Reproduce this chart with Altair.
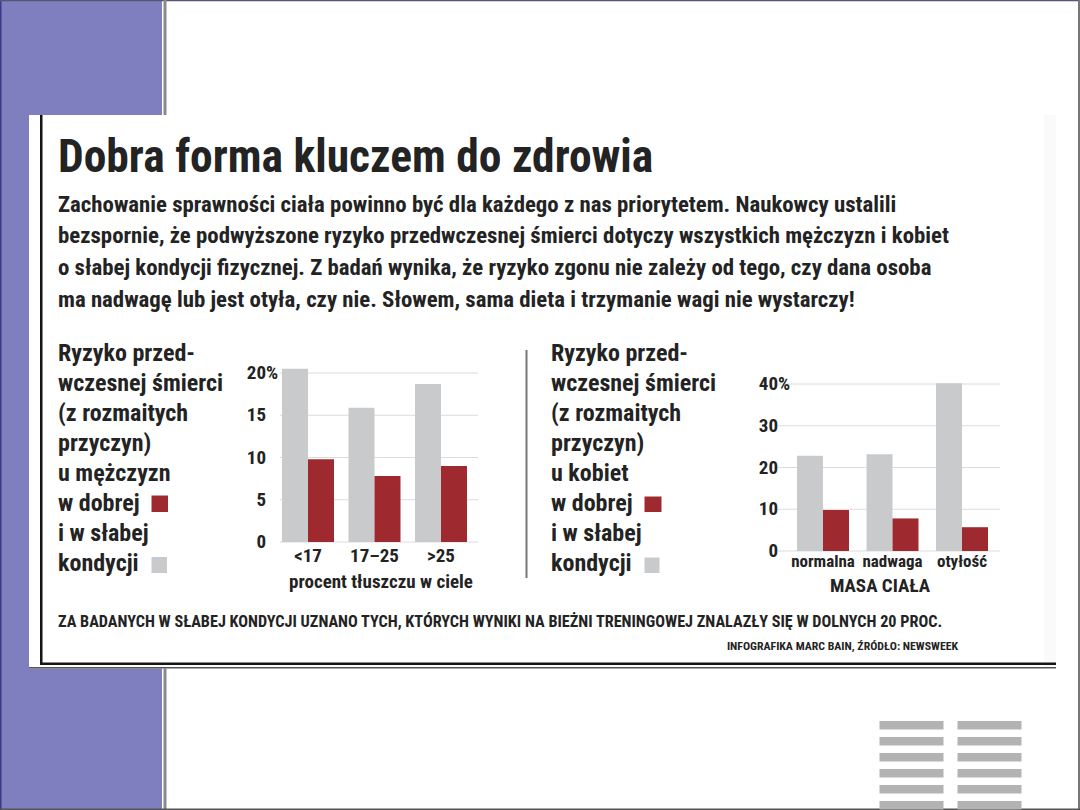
import altair as alt
import pandas as pd

# ---------------- data ----------------
series = ["w słabej kondycji", "w dobrej kondycji"]

men_groups = ["<17", "17–25", ">25"]
men_poor = [20.5, 15.9, 18.7]
men_good = [9.8, 7.8, 9.0]
men_ticks = [0, 5, 10, 15, 20]
men_axis_title = "procent tłuszczu w ciele"

women_groups = ["normalna", "nadwaga", "otyłość"]
women_poor = [22.8, 23.2, 40.2]
women_good = [9.8, 7.8, 5.7]
women_ticks = [0, 10, 20, 30, 40]
women_axis_title = "MASA CIAŁA"

title = "Dobra forma kluczem do zdrowia"
body_lines = [
    "Zachowanie sprawności ciała powinno być dla każdego z nas priorytetem. Naukowcy ustalili",
    "bezspornie, że podwyższone ryzyko przedwczesnej śmierci dotyczy wszystkich mężczyzn i kobiet",
    "o słabej kondycji fizycznej. Z badań wynika, że ryzyko zgonu nie zależy od tego, czy dana osoba",
    "ma nadwagę lub jest otyła, czy nie. Słowem, sama dieta i trzymanie wagi nie wystarczy!",
]
men_caption = ["Ryzyko przed-", "wczesnej śmierci", "(z rozmaitych", "przyczyn)",
               "u mężczyzn", "w dobrej", "i w słabej", "kondycji"]
women_caption = ["Ryzyko przed-", "wczesnej śmierci", "(z rozmaitych", "przyczyn)",
                 "u kobiet", "w dobrej", "i w słabej", "kondycji"]
footnote = ("ZA BADANYCH W SŁABEJ KONDYCJI UZNANO TYCH, KTÓRYCH WYNIKI NA BIEŻNI "
            "TRENINGOWEJ ZNALAZŁY SIĘ W DOLNYCH 20 PROC.")
credit = "INFOGRAFIKA MARC BAIN, ŹRÓDŁO: NEWSWEEK"

# ---------------- style ----------------
FONT = "Liberation Sans Narrow, Roboto Condensed, DejaVu Sans Condensed, Arial Narrow, sans-serif"
INK = "#232323"
GRAY = "#c9cacc"
RED = "#9e2a30"
GRID = "#dcdcdc"
PURPLE = "#7f7fbf"

ONE = pd.DataFrame({"k": [0]})


def box(x, x2, y, y2, color):
    return alt.Chart(ONE).mark_rect(color=color).encode(
        x=alt.value(x), x2=alt.value(x2), y=alt.value(y), y2=alt.value(y2))


def txt(text, x, y, size, weight="normal", align="left", color=INK, lh=None):
    kw = dict(text=text, font=FONT, fontSize=size, fontWeight=weight, align=align,
              baseline="alphabetic", color=color)
    if lh is not None:
        kw["lineHeight"] = lh
    return alt.Chart(ONE).mark_text(**kw).encode(x=alt.value(x), y=alt.value(y))


# ---------------- slide decoration ----------------
decor = [
    box(0, 162, 0, 810, PURPLE),
    box(0, 1.5, 0, 810, "#3a3a8a"),
    box(0, 1080, 0, 1.2, "#55557a"),
    box(163.5, 166.5, 0, 810, "#8a8a8a"),
    box(1078, 1080, 0, 810, "#777777"),
    box(0, 1080, 808.5, 810, "#555555"),
    box(29, 1056, 115, 668.5, "white"),
    box(1044, 1056, 115, 668, "#fafafa"),
    box(40, 42.5, 115, 665, "#151515"),
    box(40, 1056, 662.5, 665, "#151515"),
    box(29, 1056, 667, 668.5, "#555555"),
    box(525.5, 527.5, 350, 578, "#777777"),
]
# stacked-lines icon, bottom right
icon_rows = pd.DataFrame({"r": [0, 1, 2, 3, 4, 5]})
for cx in (879.5, 957.5):
    decor.append(
        alt.Chart(icon_rows).transform_calculate(
            y0="721 + datum.r * 16", y1="729.5 + datum.r * 16"
        ).mark_rect(color="#b3b3b3").encode(
            x=alt.value(cx), x2=alt.value(cx + 64),
            y=alt.Y("y0:Q", scale=None), y2="y1:Q"))

# ---------------- texts ----------------
texts = [
    txt(title, 58, 172, 45.5, "bold"),
    txt(body_lines, 58, 211.5, 22.8, "bold", lh=31.8),
    txt(men_caption, 58, 360.5, 24, "bold", lh=30.1),
    txt(women_caption, 551, 360.5, 24, "bold", lh=30.1),
    txt(footnote, 58, 627, 16.2, "bold"),
    txt(credit, 958, 650, 11.8, "bold", align="right"),
    # legend swatches beside the captions
    box(151.5, 168, 495.5, 512, RED),
    box(151.5, 167, 557, 573, GRAY),
    box(644.5, 661.5, 496.5, 512, RED),
    box(644.5, 659.5, 557.5, 573, GRAY),
]


# ---------------- bar charts ----------------
def bar_panel(groups, poor, good, ticks, xrange, pad_in, yrange, grid_x, label_x,
              cat_y, cat_size, axis_title, title_x, title_y, title_size):
    df = pd.DataFrame({
        "grupa": groups * 2,
        "kondycja": [series[0]] * len(groups) + [series[1]] * len(groups),
        "ryzyko": poor + good,
    })
    tick_df = pd.DataFrame({"v": ticks, "lab": [str(t) for t in ticks]})
    top_df = pd.DataFrame({"v": [ticks[-1]], "lab": ["%"]})
    xs = alt.Scale(domain=groups, range=xrange, paddingInner=pad_in, paddingOuter=pad_in / 2)
    ys = alt.Scale(domain=[ticks[0], ticks[-1]], range=yrange)

    grid = alt.Chart(tick_df).mark_rule(color=GRID, strokeWidth=1).encode(
        y=alt.Y("v:Q", scale=ys, axis=None),
        x=alt.value(grid_x[0]), x2=alt.value(grid_x[1]))
    bars = alt.Chart(df).mark_bar().encode(
        x=alt.X("grupa:N", sort=groups, scale=xs, axis=None),
        xOffset=alt.XOffset("kondycja:N", sort=series,
                            scale=alt.Scale(domain=series, paddingInner=0, paddingOuter=0)),
        y=alt.Y("ryzyko:Q", scale=ys, axis=None),
        color=alt.Color("kondycja:N", scale=alt.Scale(domain=series, range=[GRAY, RED]),
                        legend=None))
    tick_labels = alt.Chart(tick_df).mark_text(
        font=FONT, fontSize=19, align="right", baseline="middle", color=INK,
        fontWeight="bold").encode(
        y=alt.Y("v:Q", scale=ys, axis=None), x=alt.value(label_x), text="lab:N")
    pct = alt.Chart(top_df).mark_text(
        font=FONT, fontSize=19, align="left", baseline="middle", color=INK,
        fontWeight="bold").encode(
        y=alt.Y("v:Q", scale=ys, axis=None), x=alt.value(label_x), text="lab:N")
    cats = alt.Chart(pd.DataFrame({"grupa": groups})).mark_text(
        font=FONT, fontSize=cat_size, baseline="alphabetic", color=INK,
        fontWeight="bold").encode(
        x=alt.X("grupa:N", sort=groups, scale=xs, axis=None),
        y=alt.value(cat_y), text="grupa:N")
    atitle = txt(axis_title, title_x, title_y, title_size, "bold", align="center")
    return alt.layer(grid, bars, tick_labels, pct, cats, atitle)


men = bar_panel(men_groups, men_poor, men_good, men_ticks,
                [274.75, 474.25], 0.218, [542, 373], (280, 478), 266,
                562, 19, men_axis_title, 381, 588, 19)
women = bar_panel(women_groups, women_poor, women_good, women_ticks,
                  [788.25, 996.75], 0.252, [551, 384], (778, 1000), 778,
                  566.5, 17, women_axis_title, 880, 592, 19)

chart = alt.layer(*decor, *texts, men, women).resolve_scale(
    x="independent", y="independent", xOffset="independent"
).properties(
    width=1080, height=810, padding=0, autosize=alt.AutoSizeParams(type="none"),
    background="white"
).configure_view(stroke=None)

chart.save("out.html", embed_options={"renderer": "svg", "actions": False})
